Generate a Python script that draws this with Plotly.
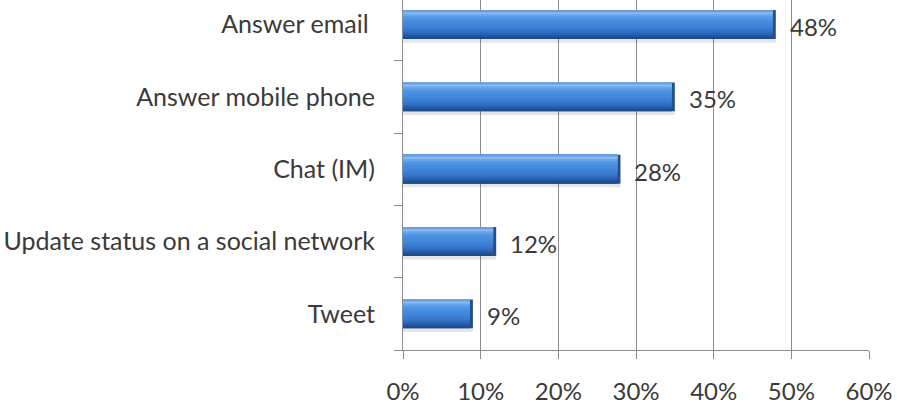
import plotly.graph_objects as go

# Share of people doing each activity
activities = ["Tweet", "Update status on a social network", "Chat (IM)",
              "Answer mobile phone", "Answer email "]
shares = [9, 12, 28, 35, 48]
x_ticks = [0, 10, 20, 30, 40, 50, 60]
x_tick_text = [f"{v}%" for v in x_ticks]

FONT = "Lato"
TEXT_COLOR = "#3a3a3a"
GRID = "#8c8c8c"

BAR_W = 0.4
# bottom-to-top colour ramp for the glossy bar look
ramp = ["#1d4b8f", "#24569f", "#2b62b2", "#3270c4", "#3779cf", "#3b7fd5",
        "#3f84d9", "#4389dc", "#478ddf", "#4c92e2", "#5699e5", "#6aa6ea",
        "#8ab9f0", "#6d9fdc"]
n = len(ramp)
strip = BAR_W / n
pos = list(range(len(activities)))

fig = go.Figure()

# soft shadow under each bar
fig.add_trace(go.Bar(
    y=pos, x=shares, orientation="h",
    width=0.06, offset=-BAR_W / 2 - 0.05,
    marker=dict(color="rgba(0,0,0,0.10)", line=dict(width=0)),
    hoverinfo="skip", showlegend=False))

# dark base (gives the darker rim and bevelled end)
fig.add_trace(go.Bar(
    y=pos, x=shares, orientation="h",
    width=BAR_W, offset=-BAR_W / 2,
    marker=dict(color="#1f4f94", line=dict(width=0)),
    hoverinfo="skip", showlegend=False))

# gradient layers: each one starts higher and runs to the top edge
for i, c in enumerate(ramp):
    fig.add_trace(go.Bar(
        y=pos, x=[v - 0.4 for v in shares],
        orientation="h", base=0.0,
        width=BAR_W - i * strip, offset=-BAR_W / 2 + i * strip,
        marker=dict(color=c, line=dict(width=0)),
        hoverinfo="skip", showlegend=False))

# value labels
for i, v in enumerate(shares):
    fig.add_annotation(x=v, y=i, xref="x", yref="y", text=f"{v}%",
                       showarrow=False, xanchor="left", xshift=12, yshift=-2,
                       font=dict(family=FONT, size=24, color=TEXT_COLOR))

fig.update_layout(
    width=897, height=406,
    margin=dict(l=403, r=28, t=0, b=56, pad=0),
    paper_bgcolor="white", plot_bgcolor="white",
    barmode="overlay", showlegend=False,
    font=dict(family=FONT, color=TEXT_COLOR),
    xaxis=dict(
        range=[0, 60], tickvals=x_ticks, ticktext=x_tick_text,
        showgrid=True, gridcolor=GRID, gridwidth=1,
        zeroline=False, showline=True, linecolor=GRID, linewidth=1,
        ticks="outside", ticklen=8, tickcolor=GRID,
        tickfont=dict(family=FONT, size=24, color=TEXT_COLOR),
        ticklabelstandoff=12, fixedrange=True),
    yaxis=dict(
        range=[-0.5, 4.34], tickvals=pos,
        ticktext=activities, ticks="", showgrid=False, zeroline=False,
        showline=True, linecolor=GRID, linewidth=1,
        tickfont=dict(family=FONT, size=25, color=TEXT_COLOR),
        ticklabelstandoff=22,
        minor=dict(tickmode="array",
                   tickvals=[k - 0.5 for k in range(len(activities))],
                   ticks="outside", ticklen=8, tickcolor=GRID, showgrid=False),
        fixedrange=True),
)

fig.write_html("out.html")
